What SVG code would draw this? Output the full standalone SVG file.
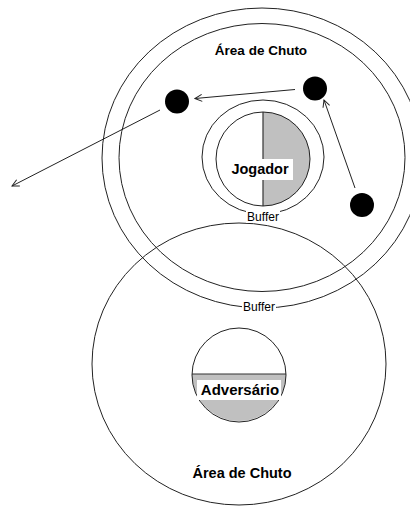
<svg xmlns="http://www.w3.org/2000/svg" width="410" height="506" viewBox="0 0 410 506">
<style>
.ring{fill:none;stroke:#222;stroke-width:1}
.half{fill:#c0c0c0;stroke:none}
.div{stroke:#333;stroke-width:1.2}
.lbl{font-family:"Liberation Sans",Arial,sans-serif;font-weight:bold;fill:#000;text-anchor:middle}
.buf{font-family:"Liberation Sans",Arial,sans-serif;font-size:12px;fill:#000;text-anchor:middle}
.bg{fill:#fff;stroke:none}
.ball{fill:#000}
.conn{stroke:#222;stroke-width:1;fill:none}
</style>
<defs>
<marker id="arr" viewBox="-9 -5 10 10" refX="0" refY="0" markerWidth="10" markerHeight="10" markerUnits="userSpaceOnUse" orient="auto">
<path d="M-7,-3.5 L0,0 L-7,3.5" fill="none" stroke="#222" stroke-width="1"/>
</marker>
</defs>
<rect width="410" height="506" fill="#fff"/>

<g id="zona-jogador">
<ellipse class="ring" cx="262" cy="158" rx="160" ry="150"/>
<ellipse class="ring" cx="262" cy="157.5" rx="143" ry="134"/>
<text class="lbl" x="261" y="55" font-size="13.5">Área de Chuto</text>
</g>

<g id="zona-adversario">
<ellipse class="ring" cx="239" cy="364" rx="147" ry="141"/>
<text class="lbl" x="242" y="478" font-size="14.5">Área de Chuto</text>
</g>

<g id="jogador">
<ellipse class="ring" cx="263" cy="157" rx="61" ry="57"/>
<circle cx="263" cy="159" r="47" fill="#fff"/>
<path class="half" d="M263,112 A47,47 0 0 1 263,206 Z"/>
<line class="div" x1="263" y1="112" x2="263" y2="206"/>
<circle class="ring" cx="263" cy="159" r="47"/>
<rect class="bg" x="229" y="159" width="64" height="21"/>
<text class="lbl" x="260" y="174" font-size="14.5">Jogador</text>
</g>

<g id="adversario">
<circle cx="239" cy="375" r="47" fill="#fff"/>
<path class="half" d="M192,374 A47,47 0 0 0 286,374 Z"/>
<line class="div" x1="192" y1="374" x2="286" y2="374"/>
<circle class="ring" cx="239" cy="375" r="47"/>
<rect class="bg" x="197" y="380" width="84" height="20"/>
<text class="lbl" x="240" y="395" font-size="15">Adversário</text>
</g>

<g id="buffer-labels">
<rect class="bg" x="246" y="211" width="34" height="12"/>
<text class="buf" x="263" y="221">Buffer</text>
<rect class="bg" x="242" y="301" width="34" height="12"/>
<text class="buf" x="259" y="311">Buffer</text>
</g>

<g id="bola-1"><circle class="ball" cx="177" cy="101.5" r="12"/></g>
<g id="bola-2"><circle class="ball" cx="315" cy="88.5" r="12"/></g>
<g id="bola-3"><circle class="ball" cx="362" cy="205" r="12"/></g>

<g id="connectors">
<line class="conn" x1="295" y1="89.5" x2="195" y2="98.5" marker-end="url(#arr)"/>
<line class="conn" x1="355" y1="188" x2="324" y2="100" marker-end="url(#arr)"/>
<line class="conn" x1="160" y1="110" x2="12" y2="186" marker-end="url(#arr)"/>
</g>
</svg>
